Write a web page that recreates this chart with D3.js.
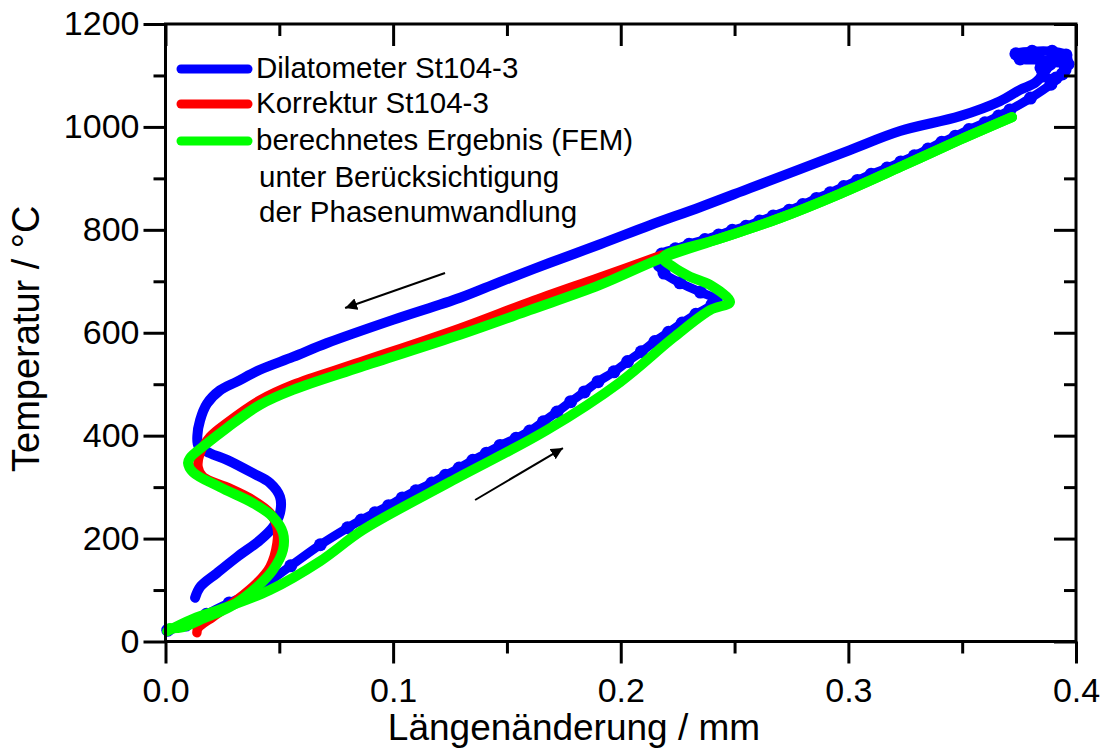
<!DOCTYPE html>
<html>
<head>
<meta charset="utf-8">
<script src="https://cdn.jsdelivr.net/npm/d3@7"></script>
<style>
  html, body { margin: 0; padding: 0; background: #fff; }
  svg { display: block; font-family: "Liberation Sans", Arial, sans-serif; }
</style>
</head>
<body>
<svg id="chart" width="1103" height="752"></svg>
<script>
// Dilatometer run St104-3: length change [mm] vs. temperature [°C]
const xMajorTicks = [0, 0.1, 0.2, 0.3, 0.4];
const xMinorTicks = [0.05, 0.15, 0.25, 0.35];
const yMajorTicks = [0, 200, 400, 600, 800, 1000, 1200];
const yMinorTicks = [100, 300, 500, 700, 900, 1100];

const seriesNames = [
  "Dilatometer St104-3",
  "Korrektur St104-3",
  "berechnetes Ergebnis (FEM)"
];
const legendExtraLines = ["unter Berücksichtigung", "der Phasenumwandlung"];
const seriesColors = ["#0000ff", "#ff0000", "#00ff00"];

// measured curve: heating, holding loop near 1140 °C
const dilatometerHeating = [
  [0.001, 22], [0.009, 32], [0.018, 53], [0.028, 75], [0.040, 100],
  [0.055, 147], [0.068, 188], [0.080, 221], [0.086, 236], [0.092, 250],
  [0.098, 264], [0.104, 279], [0.110, 293], [0.117, 308], [0.123, 323],
  [0.129, 337], [0.135, 352], [0.141, 366], [0.147, 381], [0.154, 395],
  [0.160, 409], [0.166, 427], [0.172, 446], [0.178, 466], [0.184, 485],
  [0.190, 505], [0.197, 524], [0.203, 544], [0.209, 563], [0.215, 583],
  [0.221, 601], [0.227, 619], [0.233, 636], [0.240, 654], [0.242, 664],
  [0.235, 679], [0.226, 697], [0.219, 716], [0.217, 731], [0.218, 753],
  [0.224, 763], [0.230, 772], [0.237, 781], [0.243, 790], [0.249, 799],
  [0.255, 807], [0.261, 817], [0.267, 827], [0.274, 838], [0.280, 849],
  [0.286, 861], [0.292, 872], [0.298, 884], [0.304, 896], [0.310, 908],
  [0.317, 920], [0.323, 932], [0.329, 944], [0.335, 957], [0.341, 970],
  [0.347, 982], [0.353, 995], [0.360, 1008], [0.366, 1021], [0.371, 1033],
  [0.380, 1056], [0.389, 1083], [0.394, 1103], [0.3965, 1122], [0.3956, 1140],
  [0.3895, 1147], [0.3807, 1147], [0.3736, 1142], [0.3754, 1132], [0.3842, 1130],
  [0.3921, 1128], [0.3952, 1111], [0.3912, 1095], [0.3855, 1099], [0.3846, 1115],
  [0.3886, 1122]
];
// measured curve: cooling with the transformation bulge below 400 °C
const dilatometerCooling = [
  [0.3886, 1122], [0.3824, 1087], [0.3754, 1072], [0.3666, 1050], [0.349, 1021],
  [0.3227, 992], [0.3007, 955], [0.2788, 918], [0.2568, 881], [0.2348, 844],
  [0.2128, 809], [0.1909, 772], [0.1689, 736], [0.147, 699], [0.1294, 668],
  [0.0999, 625], [0.071, 580], [0.056, 553], [0.0415, 528], [0.0314, 505],
  [0.0239, 488], [0.0182, 462], [0.0152, 430], [0.0140, 400], [0.0145, 380],
  [0.0195, 366], [0.027, 353], [0.0384, 327], [0.0459, 308], [0.0503, 281],
  [0.0503, 250], [0.0472, 222], [0.0415, 197], [0.0314, 164], [0.0226, 133],
  [0.0152, 106], [0.013, 85]
];
// corrected measurement, cooling branch
const korrekturCooling = [
  [0.2182, 751], [0.1909, 708], [0.1601, 660], [0.1294, 609], [0.0855, 543],
  [0.056, 499], [0.0415, 469], [0.027, 425], [0.0196, 398], [0.0152, 366],
  [0.0143, 339], [0.0165, 320], [0.027, 300], [0.0384, 275], [0.0459, 250],
  [0.049, 222], [0.049, 191], [0.0459, 145], [0.0402, 114], [0.0314, 81],
  [0.0209, 48], [0.0143, 26], [0.0138, 17]
];
// FEM result, heating branch
const femHeating = [
  [0.0007, 20], [0.0121, 44], [0.027, 67], [0.0459, 100], [0.0679, 156],
  [0.0868, 217], [0.125, 310], [0.1676, 411], [0.1997, 504], [0.223, 590],
  [0.2392, 644], [0.248, 660], [0.2392, 693], [0.2304, 709], [0.223, 728],
  [0.2186, 746], [0.2436, 783], [0.27, 823], [0.2963, 870], [0.3227, 922],
  [0.349, 975], [0.3719, 1019]
];
// FEM result, cooling branch
const femCooling = [
  [0.3719, 1019], [0.349, 975], [0.3227, 922], [0.2963, 870], [0.27, 823],
  [0.2436, 783], [0.2186, 746], [0.1909, 693], [0.1601, 644], [0.1294, 596],
  [0.0855, 533], [0.056, 489], [0.0415, 460], [0.027, 415], [0.0174, 382],
  [0.0108, 357], [0.0099, 347], [0.0121, 329], [0.0239, 300], [0.0384, 269],
  [0.0472, 242], [0.0516, 211], [0.0516, 178], [0.0472, 139], [0.0402, 106],
  [0.0283, 67], [0.0152, 42], [0.0077, 28], [0.002, 26]
];

// direction arrows: [from, to] in data units
const arrowCooling = [[0.1228, 716], [0.0789, 648]];
const arrowHeating = [[0.136, 275], [0.1746, 376]];

const svg = d3.select("#chart");
const x = d3.scaleLinear().domain([0, 0.4]).range([165.5, 1076]);
const y = d3.scaleLinear().domain([0, 1200]).range([641.5, 24]);

const defs = svg.append("defs");
defs.append("marker")
  .attr("id", "head")
  .attr("viewBox", "0 0 10 10")
  .attr("refX", 10).attr("refY", 5)
  .attr("markerWidth", 12).attr("markerHeight", 12)
  .attr("markerUnits", "userSpaceOnUse")
  .attr("orient", "auto")
  .append("path").attr("d", "M0,0 L10,5 L0,10 Z").attr("fill", "#000");

const plot = svg.append("g");
const line = d3.line()
  .x(d => x(d[0])).y(d => y(d[1]))
  .curve(d3.curveCatmullRom.alpha(0.5));

function drawSeries(data, color, width, dotRadius) {
  plot.append("path")
    .datum(data)
    .attr("d", line)
    .attr("fill", "none")
    .attr("stroke", color)
    .attr("stroke-width", width)
    .attr("stroke-linejoin", "round")
    .attr("stroke-linecap", "round");
  if (dotRadius) {
    plot.append("g").selectAll("circle")
      .data(data).join("circle")
      .attr("cx", d => x(d[0])).attr("cy", d => y(d[1]))
      .attr("r", dotRadius).attr("fill", color);
  }
}

drawSeries(dilatometerHeating, seriesColors[0], 9, 6.5);
drawSeries(dilatometerCooling, seriesColors[0], 10, 0);
drawSeries(korrekturCooling, seriesColors[1], 9.5, 0);
drawSeries(femHeating, seriesColors[2], 10, 0);
drawSeries(femCooling, seriesColors[2], 10, 0);

// arrows
[arrowCooling, arrowHeating].forEach(a => {
  svg.append("line")
    .attr("x1", x(a[0][0])).attr("y1", y(a[0][1]))
    .attr("x2", x(a[1][0])).attr("y2", y(a[1][1]))
    .attr("stroke", "#000").attr("stroke-width", 2)
    .attr("marker-end", "url(#head)");
});

// axes
const axisFont = 34;
function styleAxis(g) {
  g.select(".domain").remove();
  g.selectAll(".tick line").attr("stroke", "#000").attr("stroke-width", 3);
  g.selectAll(".tick text")
    .attr("fill", "#000")
    .style("font-size", axisFont + "px")
    .style("font-family", '"Liberation Sans", Arial, sans-serif');
}

// bottom: outward ticks with labels
svg.append("g").attr("transform", `translate(0,${y(0)})`)
  .call(d3.axisBottom(x).tickValues(xMajorTicks).tickSize(22).tickPadding(14)
    .tickFormat(d3.format(".1f")))
  .call(styleAxis);
svg.append("g").attr("transform", `translate(0,${y(0)})`)
  .call(d3.axisBottom(x).tickValues(xMinorTicks).tickSize(12).tickFormat(""))
  .call(styleAxis);
// top: inward ticks
svg.append("g").attr("transform", `translate(0,${y(1200)})`)
  .call(d3.axisBottom(x).tickValues(xMajorTicks).tickSize(22).tickFormat(""))
  .call(styleAxis);
svg.append("g").attr("transform", `translate(0,${y(1200)})`)
  .call(d3.axisBottom(x).tickValues(xMinorTicks).tickSize(12).tickFormat(""))
  .call(styleAxis);
// left: outward ticks with labels
svg.append("g").attr("transform", `translate(${x(0)},0)`)
  .call(d3.axisLeft(y).tickValues(yMajorTicks).tickSize(22).tickPadding(4)
    .tickFormat(d3.format("d")))
  .call(styleAxis);
svg.append("g").attr("transform", `translate(${x(0)},0)`)
  .call(d3.axisLeft(y).tickValues(yMinorTicks).tickSize(12).tickFormat(""))
  .call(styleAxis);
// right: inward ticks
svg.append("g").attr("transform", `translate(${x(0.4)},0)`)
  .call(d3.axisLeft(y).tickValues(yMajorTicks).tickSize(22).tickFormat(""))
  .call(styleAxis);
svg.append("g").attr("transform", `translate(${x(0.4)},0)`)
  .call(d3.axisLeft(y).tickValues(yMinorTicks).tickSize(12).tickFormat(""))
  .call(styleAxis);

// frame
svg.append("rect")
  .attr("x", x(0)).attr("y", y(1200))
  .attr("width", x(0.4) - x(0)).attr("height", y(0) - y(1200))
  .attr("fill", "none").attr("stroke", "#000").attr("stroke-width", 3);

// axis titles
svg.append("text")
  .attr("x", 574).attr("y", 740)
  .attr("text-anchor", "middle")
  .style("font-size", "37px")
  .text("Längenänderung / mm");
svg.append("text")
  .attr("transform", `translate(39,${(y(0) + y(1200)) / 2 + 6}) rotate(-90)`)
  .attr("text-anchor", "middle")
  .style("font-size", "38px")
  .text("Temperatur / °C");

// legend
const legend = svg.append("g");
const legendRows = [78, 113, 150];
seriesNames.forEach((name, i) => {
  legend.append("line")
    .attr("x1", 181).attr("x2", 248)
    .attr("y1", legendRows[i] - 9).attr("y2", legendRows[i] - 9)
    .attr("stroke", seriesColors[i]).attr("stroke-width", 9)
    .attr("stroke-linecap", "round");
  legend.append("text")
    .attr("x", 256).attr("y", legendRows[i])
    .style("font-size", "29.5px")
    .text(name);
});
legendExtraLines.forEach((t, i) => {
  legend.append("text")
    .attr("x", 259).attr("y", 187 + i * 35)
    .style("font-size", "29.5px")
    .text(t);
});
</script>
</body>
</html>
